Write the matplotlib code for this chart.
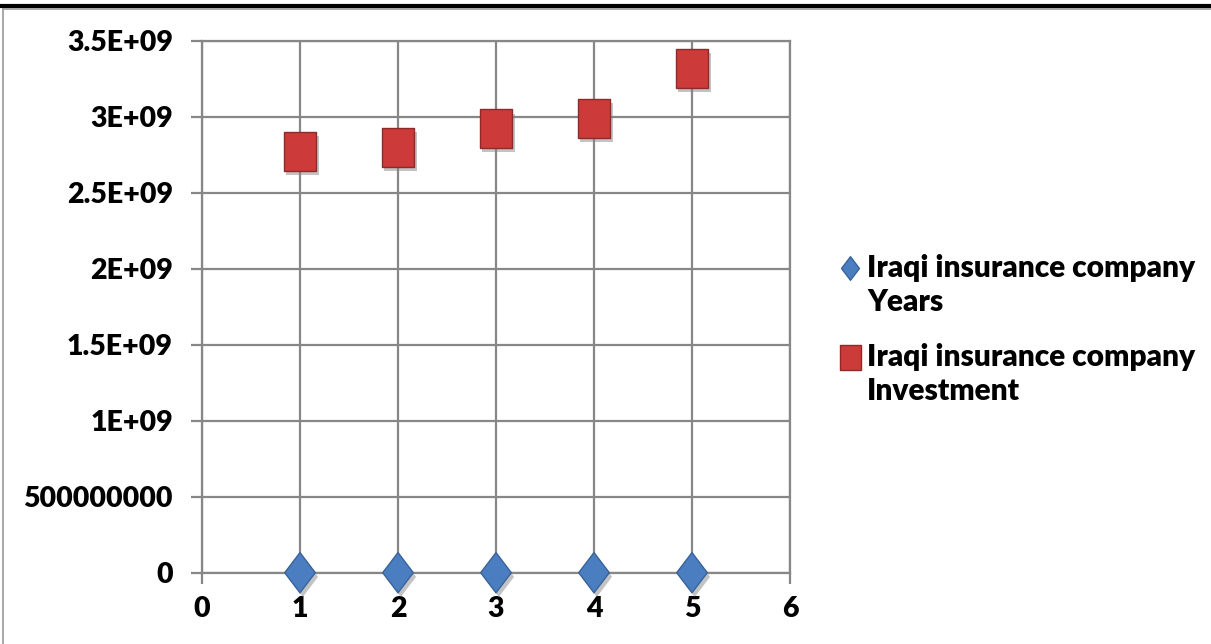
import matplotlib.pyplot as plt
import matplotlib.patheffects as pe
from matplotlib.path import Path
from matplotlib.lines import Line2D

# -----------------------------
# Data
# -----------------------------
x_vals = [1, 2, 3, 4, 5]
years_vals = [0, 0, 0, 0, 0]
invest_vals = [2.77e9, 2.80e9, 2.92e9, 2.99e9, 3.32e9]
y_ticks = [0, 5e8, 1e9, 1.5e9, 2e9, 2.5e9, 3e9, 3.5e9]
y_labels = ["0", "500000000", "1E+09", "1.5E+09", "2E+09", "2.5E+09", "3E+09", "3.5E+09"]
labels = ["Iraqi insurance company\nYears", "Iraqi insurance company\nInvestment"]

plt.rcParams['font.family'] = ['Lato', 'DejaVu Sans']

grid_col = "#878787"
blue = "#4A7EC0"
red = "#CC3A3A"
W, H = 1211, 644

# tall diamond and slightly narrow square markers
diamond = Path([(0, 0.5), (0.38, 0), (0, -0.5), (-0.38, 0), (0, 0.5)],
               [Path.MOVETO, Path.LINETO, Path.LINETO, Path.LINETO, Path.CLOSEPOLY])
rect = Path([(-0.42, -0.5), (0.42, -0.5), (0.42, 0.5), (-0.42, 0.5), (-0.42, -0.5)],
            [Path.MOVETO, Path.LINETO, Path.LINETO, Path.LINETO, Path.CLOSEPOLY])

fig = plt.figure(figsize=(12.11, 6.44), dpi=100)
ax = fig.add_axes([202 / W, 1 - 572.7 / H, 588 / W, 532 / H])

shadow = [pe.SimplePatchShadow(offset=(2, -3), shadow_rgbFace="#888888", alpha=0.5), pe.Normal()]

ax.plot(x_vals, years_vals, linestyle="none", marker=diamond, markersize=29,
        markerfacecolor=blue, markeredgecolor="#3A6399", markeredgewidth=1,
        path_effects=shadow, clip_on=False, zorder=5)
ax.plot(x_vals, invest_vals, linestyle="none", marker=rect, markersize=28,
        markerfacecolor=red, markeredgecolor="#8E2A2A", markeredgewidth=1,
        path_effects=shadow, clip_on=False, zorder=5)

ax.set_xlim(0, 6)
ax.set_ylim(0, 3.5e9)
ax.set_xticks(range(0, 7))
ax.set_yticks(y_ticks)
ax.set_yticklabels(y_labels)
ax.grid(True, color=grid_col, linewidth=1.6)
ax.set_axisbelow(True)
for s in ax.spines.values():
    s.set_color(grid_col)
    s.set_linewidth(1.6)
ax.tick_params(axis="both", colors=grid_col, length=8, width=1.6, labelsize=20.5,
               labelcolor="black")
ax.tick_params(axis="x", pad=9)
ax.tick_params(axis="y", pad=13)
for t in ax.get_xticklabels() + ax.get_yticklabels():
    t.set_fontweight("heavy")

# legend drawn by hand so the marker sits beside the first line
leg_y = [268, 357]
leg_markers = [
    dict(marker=diamond, markersize=17, markerfacecolor=blue, markeredgecolor="#3A6399"),
    dict(marker=rect, markersize=18, markerfacecolor=red, markeredgecolor="#8E2A2A"),
]
for yy, lab, mk in zip(leg_y, labels, leg_markers):
    fig.add_artist(Line2D([850 / W], [1 - yy / H], linestyle="none", **mk))
    fig.text(867 / W, 1 - (yy - 14) / H, lab, fontsize=21.5, fontweight="heavy",
             va="top", ha="left", linespacing=1.25)

# page border fragments around the chart
fig.add_artist(Line2D([0, 1], [1 - 5.5 / H, 1 - 5.5 / H], color="black", linewidth=3))
fig.add_artist(Line2D([3 / W, 1], [1 - 9 / H, 1 - 9 / H], color="#999999", linewidth=1.2))
fig.add_artist(Line2D([3 / W, 3 / W], [0, 1 - 9 / H], color="#999999", linewidth=1.2))

fig.savefig("out.png", dpi=100)
